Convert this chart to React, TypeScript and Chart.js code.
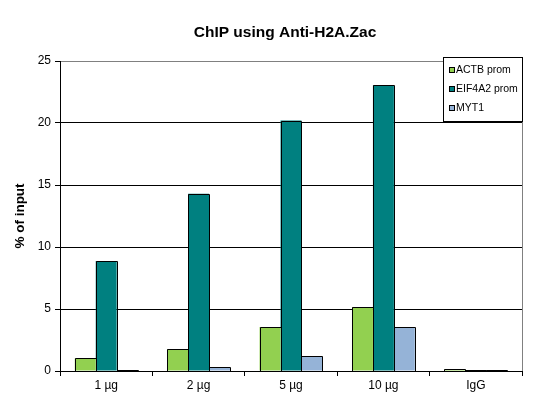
import React, { useEffect, useRef } from "react";
import { Chart, registerables } from "chart.js";

Chart.register(...registerables);

const categories = ["1 µg", "2 µg", "5 µg", "10 µg", "IgG"];
const actbProm = [1.02, 1.77, 3.55, 5.15, 0.15];
const eif4a2Prom = [8.87, 14.3, 20.2, 23.05, 0.05];
const myt1 = [0.08, 0.3, 1.2, 3.55, 0.05];
const yTicks = [0, 5, 10, 15, 20, 25];
const seriesNames = ["ACTB prom", "EIF4A2 prom", "MYT1"];
const seriesColors = ["#92D050", "#008080", "#95B3D7"];
const titleText = "ChIP using Anti-H2A.Zac";
const yAxisTitle = "% of input";

const FONT = "'Liberation Sans', Arial, sans-serif";

export default function App() {
  const ref = useRef<HTMLCanvasElement>(null);
  useEffect(() => {
    document.body.style.margin = "0";
    const canvas = ref.current!;
    const overlay = {
      id: "overlay",
      afterDatasetsDraw(chart: any) {
        const ctx = chart.ctx as CanvasRenderingContext2D;
        ctx.save();
        ctx.strokeStyle = "#000";
        ctx.lineWidth = 1;
        chart.data.datasets.forEach((_: any, di: number) => {
          const meta = chart.getDatasetMeta(di);
          meta.data.forEach((bar: any) => {
            const p = bar.getProps(["x", "y", "base", "width"], true);
            const l = Math.round(p.x - p.width / 2) + 0.5;
            const r = Math.round(p.x + p.width / 2) + 0.5;
            const t = Math.round(p.y) + 0.5;
            const b = Math.round(p.base) + 0.5;
            ctx.beginPath();
            ctx.moveTo(l, b);
            ctx.lineTo(l, t);
            ctx.lineTo(r, t);
            ctx.lineTo(r, b);
            ctx.stroke();
          });
        });
        ctx.restore();
      },
      afterDraw(chart: any) {
        const ctx = chart.ctx as CanvasRenderingContext2D;
        const a = chart.chartArea;
        ctx.save();
        ctx.strokeStyle = "#808080";
        ctx.lineWidth = 1;
        ctx.beginPath();
        ctx.moveTo(Math.round(a.right) + 0.5, a.top);
        ctx.lineTo(Math.round(a.right) + 0.5, a.bottom);
        ctx.stroke();
        ctx.fillStyle = "#000";
        ctx.font = `bold 15.5px ${FONT}`;
        ctx.textAlign = "center";
        ctx.textBaseline = "middle";
        ctx.fillText(titleText, 285, 33);
        ctx.save();
        ctx.translate(20, 216);
        ctx.rotate(-Math.PI / 2);
        ctx.font = `bold 13.5px ${FONT}`;
        ctx.fillText(yAxisTitle, 0, 0);
        ctx.restore();
        const lx = 443.5, ly = 57.5, lw = 79, lh = 64;
        ctx.fillStyle = "#fff";
        ctx.fillRect(lx, ly, lw, lh);
        ctx.strokeStyle = "#000";
        ctx.strokeRect(lx, ly, lw, lh);
        ctx.font = `10.5px ${FONT}`;
        ctx.textAlign = "left";
        ctx.textBaseline = "middle";
        const rows = [70, 89, 108];
        seriesNames.forEach((n, i) => {
          ctx.fillStyle = seriesColors[i];
          ctx.fillRect(449, rows[i] - 3, 6, 6);
          ctx.strokeStyle = "#000";
          ctx.strokeRect(449.5, rows[i] - 2.5, 5, 5);
          ctx.fillStyle = "#000";
          ctx.fillText(n, 456, rows[i] + 0.5);
        });
        ctx.restore();
      },
    };
    const seriesData = [actbProm, eif4a2Prom, myt1];
    const chart = new Chart(canvas, {
      type: "bar",
      data: {
        labels: categories,
        datasets: seriesNames.map((n, i) => ({
          label: n,
          data: seriesData[i],
          backgroundColor: seriesColors[i],
          borderWidth: 0,
          categoryPercentage: 0.68,
          barPercentage: 1,
        })),
      },
      options: {
        animation: false,
        responsive: false,
        devicePixelRatio: 1,
        layout: { padding: { left: 0, right: 20, top: 61, bottom: 0 } },
        plugins: {
          legend: { display: false },
          title: { display: false },
          tooltip: { enabled: false },
        },
        scales: {
          x: {
            afterFit(s: any) { s.height = 28; },
            grid: {
              offset: true,
              drawOnChartArea: false,
              drawTicks: true,
              tickLength: 5,
              color: "#000",
            },
            border: { color: "#000" },
            ticks: {
              color: "#000",
              font: { family: FONT, size: 12 },
              padding: 2,
            },
          },
          y: {
            min: 0,
            max: 25,
            afterFit(s: any) { s.width = 60; },
            afterBuildTicks(s: any) { s.ticks = yTicks.map((v) => ({ value: v })); },
            grid: {
              color: (c: any) => (c.tick && c.tick.value === 25 ? "#808080" : "#000"),
              tickColor: "#000",
              drawTicks: true,
              tickLength: 5,
            },
            border: { color: "#000" },
            ticks: {
              color: "#000",
              font: { family: FONT, size: 12 },
              padding: 4,
            },
          },
        },
      },
      plugins: [overlay],
    });
    return () => chart.destroy();
  }, []);
  return <canvas ref={ref} width={542} height={399} style={{ display: "block", width: 542, height: 399 }} />;
}
